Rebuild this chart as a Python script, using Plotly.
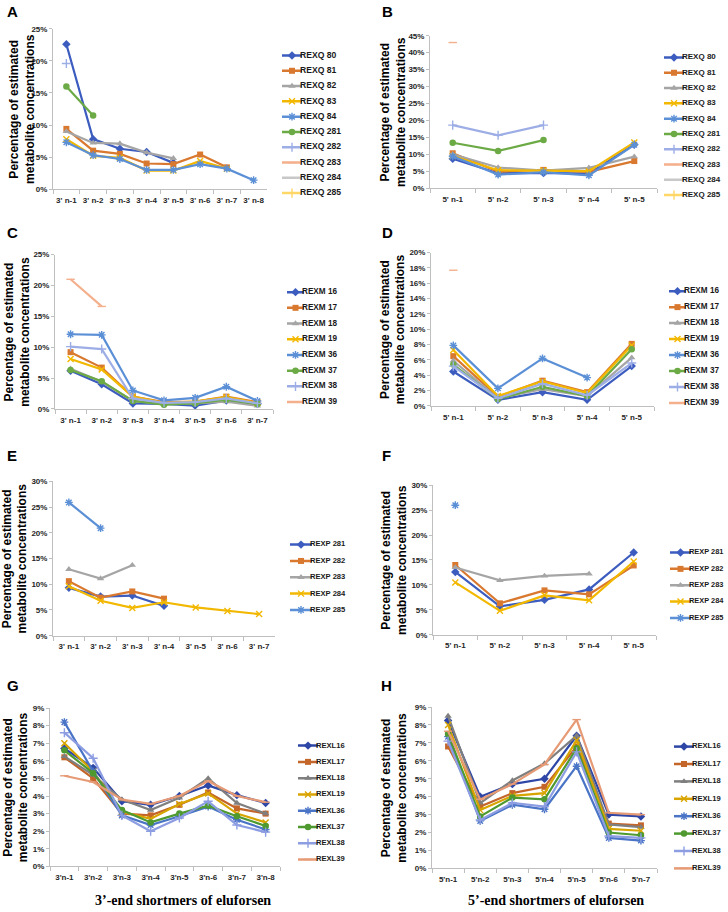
import plotly.graph_objects as go

W, H = 728, 912
SANS = "Liberation Sans"
SERIF = "Liberation Serif"

# ---------------- categories ----------------
cats_a = ["3' n-1", "3' n-2", "3' n-3", "3' n-4", "3' n-5", "3' n-6", "3' n-7", "3' n-8"]
cats_b = ["5' n-1", "5' n-2", "5' n-3", "5' n-4", "5' n-5"]
cats_c = ["3' n-1", "3' n-2", "3' n-3", "3' n-4", "3' n-5", "3' n-6", "3' n-7"]
cats_d = ["5' n-1", "5' n-2", "5' n-3", "5' n-4", "5' n-5"]
cats_e = ["3' n-1", "3' n-2", "3' n-3", "3' n-4", "3' n-5", "3' n-6", "3' n-7"]
cats_f = ["5' n-1", "5' n-2", "5' n-3", "5' n-4", "5' n-5"]
cats_g = ["3'n-1", "3'n-2", "3'n-3", "3'n-4", "3'n-5", "3'n-6", "3'n-7", "3'n-8"]
cats_h = ["5'n-1", "5'n-2", "5'n-3", "5'n-4", "5'n-5", "5'n-6", "5'n-7"]

names_q = ["REXQ 80", "REXQ 81", "REXQ 82", "REXQ 83", "REXQ 84",
           "REXQ 281", "REXQ 282", "REXQ 283", "REXQ 284", "REXQ 285"]
names_m = ["REXM 16", "REXM 17", "REXM 18", "REXM 19", "REXM 36", "REXM 37", "REXM 38", "REXM 39"]
names_p = ["REXP 281", "REXP 282", "REXP 283", "REXP 284", "REXP 285"]
names_l = ["REXL16", "REXL17", "REXL18", "REXL19", "REXL36", "REXL37", "REXL38", "REXL39"]

# ---------------- values (% of estimated metabolite concentrations) ----------------
# A: REXQ, 3' end
a_q80 = [22.6, 7.8, 6.3, 5.8, 4.1, None, None, None]
a_q81 = [9.4, 6.0, 5.5, 4.0, 3.9, 5.4, 3.4, None]
a_q82 = [9.0, 7.2, 7.1, 5.7, 4.8, None, None, None]
a_q83 = [7.8, 5.2, 4.9, 2.9, 2.9, 4.4, 3.2, None]
a_q84 = [7.3, 5.3, 4.7, 3.0, 3.0, 3.9, 3.2, 1.4]
a_q281 = [16.0, 11.5, None, None, None, None, None, None]
a_q282 = [19.6, None, None, None, None, None, None, None]
a_q283 = [None] * 8
a_q284 = [None] * 8
a_q285 = [None] * 8

# B: REXQ, 5' end
b_q80 = [8.7, 4.4, 4.5, 4.3, 12.9]
b_q81 = [10.3, 4.9, 5.4, 4.8, 8.0]
b_q82 = [10.0, 6.1, 5.2, 6.0, 9.3]
b_q83 = [9.5, 5.3, 5.2, 5.0, 13.5]
b_q84 = [9.4, 4.0, 4.7, 3.8, 12.8]
b_q281 = [13.4, 11.0, 14.2, None, None]
b_q282 = [18.6, 15.6, 18.6, None, None]
b_q283 = [43.0, None, None, None, None]
b_q284 = [None] * 5
b_q285 = [None] * 5

# C: REXM, 3' end
c_m16 = [6.2, 4.0, 0.9, 0.8, 0.55, 1.35, 0.8]
c_m17 = [9.2, 6.7, 2.0, 1.1, 1.2, 2.0, 1.1]
c_m18 = [6.5, 4.4, 1.3, 0.8, 0.9, 1.2, 0.5]
c_m19 = [8.1, 6.4, 2.0, 1.0, 1.2, 1.9, 1.0]
c_m36 = [12.1, 12.0, 3.0, 1.4, 1.8, 3.6, 1.3]
c_m37 = [6.3, 4.5, 1.3, 0.7, 0.9, 1.5, 0.8]
c_m38 = [10.1, 9.7, 1.7, 1.0, 1.1, 1.7, 0.9]
c_m39 = [21.0, 16.6, None, None, None, None, None]

# D: REXM, 5' end
d_m16 = [4.5, 0.8, 1.8, 0.8, 5.2]
d_m17 = [6.5, 1.2, 3.3, 1.8, 8.1]
d_m18 = [5.9, 1.0, 2.2, 1.3, 6.3]
d_m19 = [7.3, 1.3, 3.2, 1.7, 7.9]
d_m36 = [7.9, 2.3, 6.2, 3.7, None]
d_m37 = [5.4, 0.9, 2.5, 1.3, 7.4]
d_m38 = [5.2, 1.0, 2.9, 1.4, 5.6]
d_m39 = [17.7, None, None, None, None]

# E: REXP, 3' end
e_p281 = [9.3, 7.6, 7.8, 5.8, None, None, None]
e_p282 = [10.6, 7.4, 8.6, 7.2, None, None, None]
e_p283 = [12.9, 11.1, 13.7, None, None, None, None]
e_p284 = [9.6, 6.8, 5.4, 6.5, 5.5, 4.8, 4.2]
e_p285 = [25.9, 20.9, None, None, None, None, None]

# F: REXP, 5' end
f_p281 = [12.6, 5.7, 7.0, 9.1, 16.5]
f_p282 = [14.0, 6.3, 8.9, 8.1, 13.9]
f_p283 = [13.5, 10.9, 11.8, 12.2, None]
f_p284 = [10.5, 4.8, 7.9, 6.9, 14.7]
f_p285 = [26.0, None, None, None, None]

# G: REXL, 3' end
g_l16 = [6.7, 5.6, 3.7, 3.5, 4.0, 4.6, 4.05, 3.6]
g_l17 = [6.2, 5.0, 3.0, 2.9, 3.5, 4.2, 3.3, 3.0]
g_l18 = [6.25, 5.2, 3.8, 3.2, 3.9, 5.0, 3.6, 3.0]
g_l19 = [7.0, 5.4, 3.1, 2.7, 3.55, 4.15, 3.0, 2.5]
g_l36 = [8.2, 5.4, 2.9, 2.35, 2.85, 3.4, 2.65, 2.1]
g_l37 = [6.6, 5.3, 3.2, 2.5, 3.0, 3.45, 2.85, 2.3]
g_l38 = [7.6, 6.15, 2.9, 2.0, 2.75, 3.7, 2.35, 1.95]
g_l39 = [5.15, 4.8, 3.8, 3.55, 4.0, 4.85, 4.0, 3.65]

# H: REXL, 5' end
h_l16 = [8.25, 4.0, 4.7, 5.0, 7.4, 3.0, 2.9]
h_l17 = [6.8, 3.45, 4.2, 4.55, 6.8, 2.5, 2.4]
h_l18 = [8.5, 3.65, 4.9, 5.85, 7.4, 2.45, 2.3]
h_l19 = [8.0, 3.25, 4.05, 4.2, 7.15, 2.2, 2.1]
h_l36 = [7.35, 2.65, 3.55, 3.3, 5.7, 1.7, 1.55]
h_l37 = [7.5, 2.9, 3.95, 3.85, 6.7, 2.0, 1.85]
h_l38 = [7.1, 2.7, 3.65, 3.45, 6.5, 1.8, 1.7]
h_l39 = [7.65, 3.85, 4.7, 5.8, 8.3, 3.1, 3.0]

# ---------------- styles ----------------
pal_qm = ["#3C5DBF", "#D9782F", "#A5A5A5", "#F2B800", "#5B8FD6",
          "#6CAA45", "#9DAEE6", "#F4B08C", "#C8C8C8", "#FFD766"]
pal_l = ["#2E46A6", "#C4652A", "#7F7F7F", "#D8A400", "#4A74C6", "#4E9A30", "#8D9DE2", "#E69A75"]
symbols = ["diamond", "square", "triangle-up", "x-thin-open", "asterisk-open",
           "circle", "cross-thin-open", "line-ew-open", "line-ew-open", "cross-thin-open"]
msizes = [6.5, 6, 6.5, 6, 6.5, 6.5, 6.5, 6, 4, 6.5]

# panel layout in pixels: plot x0, x1, y_top, y_bottom; legend line x0, line length, first/last row y
panels = [
    dict(letter="A", cats=cats_a, names=names_q, pal=pal_qm, ymax=25, dtick=5,
         series=[a_q80, a_q81, a_q82, a_q83, a_q84, a_q281, a_q282, a_q283, a_q284, a_q285],
         box=(53, 267, 25, 187), leg=(282, 20, 52, 191), lfs=8.6, lpos=(12, 8), ytx=22),
    dict(letter="B", cats=cats_b, names=names_q, pal=pal_qm, ymax=45, dtick=5,
         series=[b_q80, b_q81, b_q82, b_q83, b_q84, b_q281, b_q282, b_q283, b_q284, b_q285],
         box=(430, 657, 32, 186), leg=(664, 20, 54, 193), lfs=8, lpos=(387, 8), ytx=393),
    dict(letter="C", cats=cats_c, names=names_m, pal=pal_qm, ymax=25, dtick=5,
         series=[c_m16, c_m17, c_m18, c_m19, c_m36, c_m37, c_m38, c_m39],
         box=(55, 273, 253, 409), leg=(287, 17, 291, 402), lfs=8.2, lpos=(12, 231), ytx=17),
    dict(letter="D", cats=cats_d, names=names_m, pal=pal_qm, ymax=20, dtick=2,
         series=[d_m16, d_m17, d_m18, d_m19, d_m36, d_m37, d_m38, d_m39],
         box=(431, 654, 251, 406), leg=(669, 17, 290, 403), lfs=8.2, lpos=(387, 231), ytx=393),
    dict(letter="E", cats=cats_e, names=names_p, pal=pal_qm, ymax=30, dtick=5,
         series=[e_p281, e_p282, e_p283, e_p284, e_p285],
         box=(53, 275, 482, 638), leg=(290, 22, 546, 612), lfs=7.6, lpos=(12, 456), ytx=15),
    dict(letter="F", cats=cats_f, names=names_p, pal=pal_qm, ymax=30, dtick=5,
         series=[f_p281, f_p282, f_p283, f_p284, f_p285],
         box=(433, 656, 486, 637), leg=(670, 21, 554, 620), lfs=7.4, lpos=(386, 456), ytx=394),
    dict(letter="G", cats=cats_g, names=names_l, pal=pal_l, ymax=9, dtick=1,
         series=[g_l16, g_l17, g_l18, g_l19, g_l36, g_l37, g_l38, g_l39],
         box=(50, 280, 711, 871), leg=(298, 20, 749, 864), lfs=7.6, lpos=(13, 688), ytx=16),
    dict(letter="H", cats=cats_h, names=names_l, pal=pal_l, ymax=9, dtick=1,
         series=[h_l16, h_l17, h_l18, h_l19, h_l36, h_l37, h_l38, h_l39],
         box=(432, 657, 710, 873), leg=(674, 20, 750, 873), lfs=7.6, lpos=(386, 688), ytx=394),
]


def px_x(v):
    return v / W


def px_y(v):
    return 1 - v / H


def ax_id(n):
    return "" if n == 1 else str(n)


def marker_style(i, color, size=None):
    sym = symbols[i]
    is_open = sym.endswith("-open")
    return dict(symbol=sym, size=size if size is not None else msizes[i], color=color,
                line=dict(color=color, width=1.4 if is_open else 0))


fig = go.Figure()
layout = {}
annotations = []
tickfont = dict(family=SANS, size=8, color="#262626", weight="bold")
axcol = "#BFBFBF"

for k, p in enumerate(panels):
    m = ax_id(2 * k + 1)
    g = ax_id(2 * k + 2)
    x0, x1, yt, yb = p["box"]
    ncat = len(p["cats"])

    layout[f"xaxis{m}"] = dict(
        domain=[px_x(x0), px_x(x1)], anchor=f"y{m}", type="category",
        categoryorder="array", categoryarray=p["cats"], range=[-0.5, ncat - 0.5],
        showline=True, linecolor=axcol, linewidth=1, ticks="outside", tickson="boundaries",
        ticklen=4, tickcolor=axcol, tickfont=tickfont, ticklabelstandoff=3, tickangle=0,
        showgrid=False, zeroline=False, fixedrange=True)
    layout[f"yaxis{m}"] = dict(
        domain=[px_y(yb), px_y(yt)], anchor=f"x{m}", range=[0, p["ymax"] * 1.0004],
        tick0=0, dtick=p["dtick"], ticksuffix="%", showline=True, linecolor=axcol,
        linewidth=1, ticks="outside", ticklen=3, tickcolor=axcol, tickfont=tickfont,
        showgrid=False, zeroline=False, fixedrange=True)

    for i, (name, vals) in enumerate(zip(p["names"], p["series"])):
        col = p["pal"][i]
        fig.add_trace(go.Scatter(
            x=p["cats"], y=vals, mode="lines+markers", name=name, showlegend=False,
            line=dict(color=col, width=2.2), marker=marker_style(i, col),
            connectgaps=False, cliponaxis=False,
            xaxis=f"x{m}", yaxis=f"y{m}"))

    # hand-built legend in its own small axes
    lx0, llen, ly0, ly1 = p["leg"]
    nser = len(p["names"])
    step = (ly1 - ly0) / (nser - 1)
    lw = min(70, W - lx0)
    layout[f"xaxis{g}"] = dict(domain=[px_x(lx0), px_x(lx0 + lw)], anchor=f"y{g}",
                               range=[0, lw], visible=False, fixedrange=True)
    layout[f"yaxis{g}"] = dict(domain=[px_y(ly1 + step / 2), px_y(ly0 - step / 2)],
                               anchor=f"x{g}", range=[nser - 0.5, -0.5],
                               visible=False, fixedrange=True)
    for i, name in enumerate(p["names"]):
        col = p["pal"][i]
        fig.add_trace(go.Scatter(
            x=[0, llen], y=[i, i], mode="lines", line=dict(color=col, width=2.5),
            showlegend=False, hoverinfo="skip", xaxis=f"x{g}", yaxis=f"y{g}"))
        fig.add_trace(go.Scatter(
            x=[llen / 2], y=[i], mode="markers", marker=marker_style(i, col),
            showlegend=False, hoverinfo="skip", cliponaxis=False,
            xaxis=f"x{g}", yaxis=f"y{g}"))
        fig.add_trace(go.Scatter(
            x=[llen - 2], y=[i], mode="text", text=[name], textposition="middle right",
            textfont=dict(family=SANS, size=p["lfs"], color="#1a1a1a", weight="bold"),
            showlegend=False, hoverinfo="skip", cliponaxis=False,
            xaxis=f"x{g}", yaxis=f"y{g}"))

    # panel letter
    lxp, lyp = p["lpos"]
    annotations.append(dict(text=p["letter"], xref="paper", yref="paper",
                            x=px_x(lxp), y=px_y(lyp), xanchor="center", yanchor="middle",
                            showarrow=False, font=dict(family=SANS, size=15, color="black", weight="bold")))
    # y axis title
    annotations.append(dict(text="Percentage of estimated<br>metabolite concentrations",
                            xref="paper", yref=f"y{m} domain", x=px_x(p["ytx"]), y=0.5,
                            xanchor="center", yanchor="middle", textangle=-90, showarrow=False,
                            font=dict(family=SANS, size=12, color="black", weight="bold")))

annotations.append(dict(text="3\u2019-end shortmers of eluforsen", xref="paper", yref="paper",
                        x=px_x(183), y=px_y(905), xanchor="center", yanchor="middle",
                        showarrow=False, font=dict(family=SERIF, size=14, color="black", weight="bold")))
annotations.append(dict(text="5\u2019-end shortmers of eluforsen", xref="paper", yref="paper",
                        x=px_x(556), y=px_y(905), xanchor="center", yanchor="middle",
                        showarrow=False, font=dict(family=SERIF, size=14, color="black", weight="bold")))

fig.update_layout(
    width=W, height=H, margin=dict(l=0, r=0, t=0, b=0),
    paper_bgcolor="white", plot_bgcolor="white", showlegend=False,
    annotations=annotations, **layout)

# the page's default 8px body margin would push the figure off the window
fig.write_html("out.html", config={"displayModeBar": False},
               post_script="document.body.style.margin='0px';document.body.style.overflow='hidden';")
